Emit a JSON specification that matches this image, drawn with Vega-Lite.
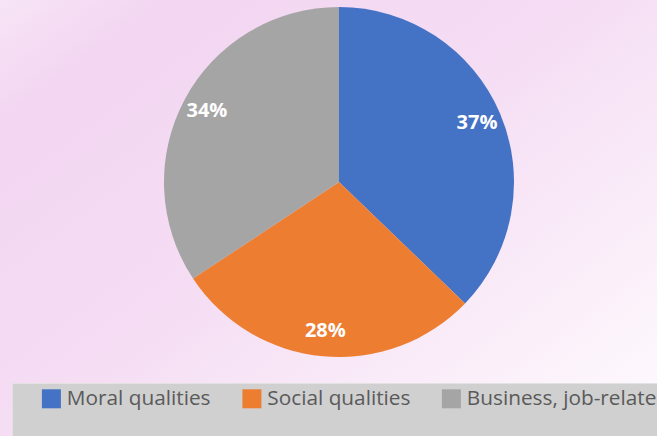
{
  "$schema": "https://vega.github.io/schema/vega-lite/v6.json",
  "width": 678,
  "height": 508,
  "autosize": {"type": "none"},
  "padding": {"left": 0, "top": -72, "right": -21, "bottom": 0},
  "background": "#f6e3f5",
  "view": {
    "stroke": null,
    "fill": {
      "gradient": "linear",
      "x1": 0, "y1": 0, "x2": 1, "y2": 1,
      "stops": [
        {"offset": 0, "color": "#f9ecf8"},
        {"offset": 0.2, "color": "#f3d6f2"},
        {"offset": 0.5, "color": "#f5ddf4"},
        {"offset": 0.8, "color": "#fbf0fa"},
        {"offset": 1, "color": "#fefcfe"}
      ]
    }
  },
  "data": {
    "values": [
      {"category": "Moral qualities", "share": 37.2, "label": "37%", "rank": 1},
      {"category": "Social qualities", "share": 28.5, "label": "28%", "rank": 2},
      {"category": "Business, job-related qualities", "share": 34.3, "label": "34%", "rank": 3}
    ]
  },
  "encoding": {
    "theta": {"field": "share", "type": "quantitative", "stack": true},
    "order": {"field": "rank", "type": "quantitative"}
  },
  "layer": [
    {
      "mark": {"type": "arc", "outerRadius": 175},
      "encoding": {
        "color": {
          "field": "category",
          "type": "nominal",
          "scale": {
            "domain": ["Moral qualities", "Social qualities", "Business, job-related qualities"],
            "range": ["#4472C4", "#ED7D31", "#A5A5A5"]
          },
          "legend": {
            "orient": "none",
            "legendX": 12,
            "legendY": 455,
            "direction": "horizontal",
            "title": "\u200b",
            "titleOrient": "bottom",
            "titleFontSize": 30,
            "titlePadding": 0,
            "fillColor": "#d0d0d0",
            "strokeColor": "#e2e2e2",
            "padding": 5,
            "symbolType": "square",
            "symbolSize": 361,
            "symbolStrokeWidth": 0,
            "symbolOpacity": 1,
            "symbolOffset": 24,
            "labelFont": "Open Sans",
            "labelFontSize": 20.8,
            "labelColor": "#5a5a5a",
            "labelOffset": 5,
            "columnPadding": 6.5,
            "labelLimit": 600
          }
        }
      }
    },
    {
      "mark": {"type": "text", "radius": 150, "font": "Open Sans", "fontSize": 20, "fontWeight": "bold", "fill": "white"},
      "encoding": {"text": {"field": "label"}}
    }
  ]
}
